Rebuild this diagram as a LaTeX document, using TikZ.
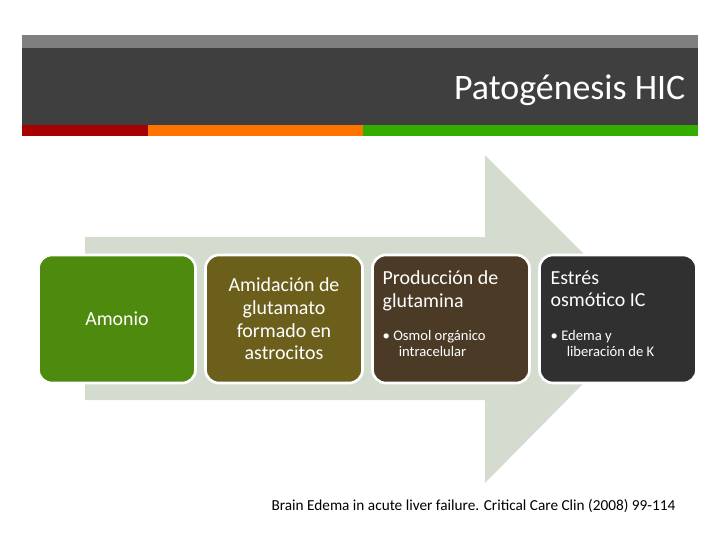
\documentclass[tikz,border=0pt]{standalone}
\usepackage{fontspec}
\setmainfont{Carlito}
\usetikzlibrary{positioning}
\definecolor{bandgray}{HTML}{3F3F3F}
\definecolor{topgray}{HTML}{7F7F7F}
\definecolor{arrowgray}{HTML}{D3DCCF}
\definecolor{boxgreen}{HTML}{4E8A0E}
\definecolor{boxolive}{HTML}{6C5F1C}
\definecolor{boxbrown}{HTML}{4B3B26}
\definecolor{boxdark}{HTML}{303030}
\newlength\pxu
\setlength\pxu{0.0264583cm}
\tikzset{
  stage/.style={draw=white,line width=2pt,rounded corners=10pt,minimum width=157\pxu,minimum height=128\pxu,text=white,inner sep=6pt},
  note/.style={font=\fontsize{11}{12}\selectfont,align=left}
}
\begin{document}
\begin{tikzpicture}[x=0.0264583cm,y=-0.0264583cm]
\useasboundingbox (0,0) rectangle (720,540);
% header
\fill[topgray] (22,35) rectangle (698,48);
\fill[bandgray] (22,48) rectangle (698,125);
\fill[red!65!black] (22,125) rectangle (148,136);
\fill[orange!90!red] (148,125) rectangle (363,136);
\fill[green!60!black!80!yellow] (363,125) rectangle (698,136);
\node[anchor=east,text=white,font=\fontsize{27}{30}\selectfont] (title) at (690,90) {Patogénesis HIC};
% big arrow
\fill[arrowgray] (85,237) -- (485,237) -- (485,155) -- (648,318) -- (485,483) -- (485,400) -- (85,400) -- cycle;
% stages
\node[stage,fill=boxgreen,font=\fontsize{15}{17}\selectfont] (amonio) at (117,319) {Amonio};
\node[stage,fill=boxolive,font=\fontsize{15}{17}\selectfont,align=center] (amida) at (284,319) {Amidación de\\glutamato\\formado en\\astrocitos};
\node[stage,fill=boxbrown] (prod) at (451,319) {};
\node[stage,fill=boxdark] (estres) at (618,319) {};
\node[anchor=north west,align=left,text=white,font=\fontsize{15}{17}\selectfont] (prodt) at (378,266) {Producción de\\glutamina};
\node[anchor=north west,note,text=white] (prodn) at (378,326) {• Osmol orgánico\\\hspace*{1.1em}intracelular};
\node[anchor=north west,align=left,text=white,font=\fontsize{15}{17}\selectfont] (estrest) at (546,266) {Estrés\\osmótico IC};
\node[anchor=north west,note,text=white] (estresn) at (546,326) {• Edema y\\\hspace*{1.1em}liberación de K};
% source
\node[anchor=east,font=\fontsize{11.5}{13}\selectfont] (ref) at (680,506) {Brain Edema in acute liver failure. Critical Care Clin (2008) 99-114};
\end{tikzpicture}
\end{document}
